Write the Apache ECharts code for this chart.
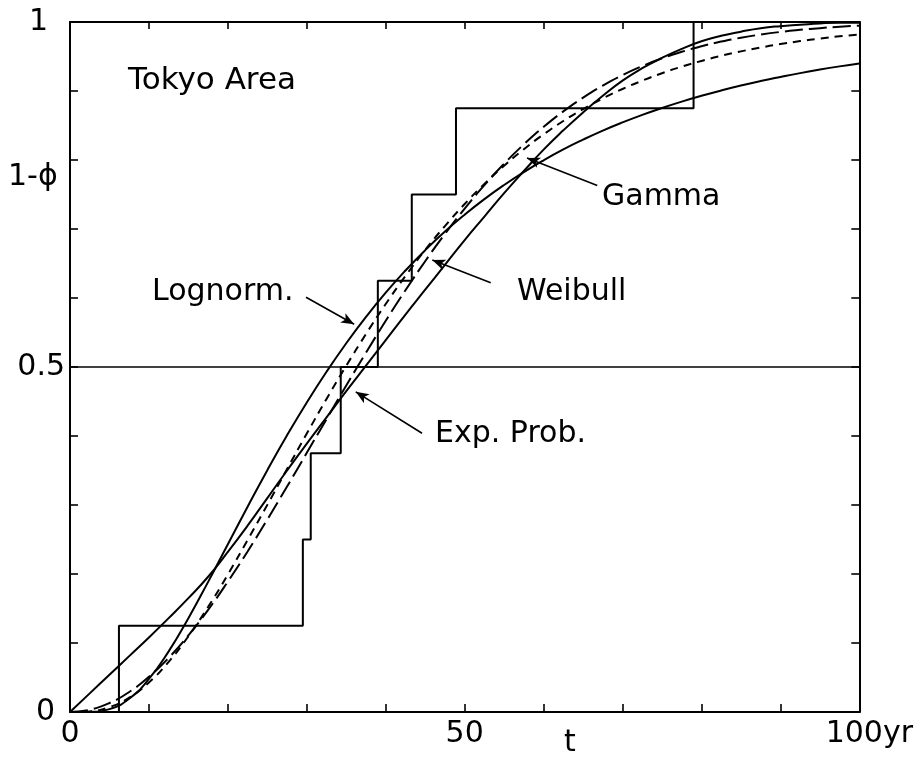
<!DOCTYPE html>
<html>
<head>
<meta charset="utf-8">
<script src="https://cdn.jsdelivr.net/npm/echarts@6/dist/echarts.min.js"></script>
<style>html,body{margin:0;padding:0;background:#fff}#c{width:916px;height:762px}</style>
</head>
<body>
<div id="c"></div>
<script>
// ---- data ----
const tYears = [0,2.5,5,7.5,10,12.5,15,17.5,20,22.5,25,27.5,30,32.5,35,37.5,40,42.5,45,47.5,50,52.5,55,57.5,60,62.5,65,67.5,70,72.5,75,77.5,80,82.5,85,87.5,90,92.5,95,97.5,100];
const lognormVals = [0,0.0002,0.0042,0.0193,0.0479,0.0879,0.136,0.1886,0.2432,0.2975,0.3505,0.401,0.4486,0.4931,0.5344,0.5726,0.6077,0.6398,0.6693,0.6963,0.7208,0.7433,0.7638,0.7825,0.7996,0.8153,0.8295,0.8426,0.8545,0.8654,0.8754,0.8846,0.893,0.9007,0.9079,0.9144,0.9203,0.9259,0.931,0.9357,0.94];
const weibullVals = [0,0.0033,0.013,0.029,0.051,0.0785,0.111,0.148,0.189,0.2327,0.279,0.3267,0.3756,0.4245,0.4731,0.5208,0.567,0.6113,0.6533,0.6929,0.7296,0.7635,0.7946,0.8227,0.848,0.8705,0.8903,0.9078,0.923,0.9361,0.9473,0.9568,0.9648,0.9716,0.9772,0.9818,0.9856,0.9886,0.9911,0.9931,0.9947];
const gammaVals = [0,0.0009,0.0071,0.0207,0.0428,0.0727,0.1098,0.1524,0.1993,0.2493,0.3002,0.3522,0.4035,0.4537,0.5018,0.5478,0.5913,0.6319,0.6696,0.7043,0.7362,0.7654,0.7918,0.8156,0.8372,0.8565,0.8738,0.8892,0.9029,0.915,0.9258,0.9353,0.9436,0.951,0.9574,0.963,0.968,0.9723,0.976,0.9793,0.982];
const expProbVals = [0,0.027,0.054,0.081,0.108,0.136,0.165,0.196,0.232,0.27,0.31,0.35,0.389,0.427,0.465,0.502,0.539,0.576,0.612,0.648,0.684,0.718,0.752,0.784,0.815,0.843,0.869,0.893,0.915,0.933,0.948,0.961,0.972,0.98,0.986,0.991,0.994,0.996,0.998,0.999,0.999];
// empirical step function (event years and cumulative level)
const eventYears  = [0,6.2,29.5,30.5,34.3,39.0,43.3,48.9,79.0,100];
const eventLevels = [0,0.125,0.25,0.375,0.5,0.625,0.75,0.875,1,1];
const refLevel = 0.5;
// arrow annotations: [fromT, fromV, toT, toV]
const arrowLognorm = [29.9, 0.601, 36.0, 0.562];
const arrowWeibull = [53.3, 0.622, 45.9, 0.655];
const arrowGamma   = [66.8, 0.763, 57.9, 0.803];
const arrowExp     = [44.6, 0.404, 36.2, 0.464];
const xTickLabels = {0:'0', 50:'50', 100:'100yr'};
const yTickLabels = {0:'0', 0.5:'0.5', 1:'1'};

const FONT = 'DejaVu Sans';
const pairs = (xs, ys) => xs.map((x, i) => [x, ys[i]]);
const arrowML = a => ({
  silent: true,
  symbol: ['none', 'arrow'],
  symbolSize: [8, 13],
  label: {show: false},
  lineStyle: {color: '#000', width: 1.6, type: 'solid'},
  emphasis: {disabled: true},
  data: [[{coord: [a[0], a[1]]}, {coord: [a[2], a[3]]}]]
});
const curve = (name, vals, type) => ({
  name, type: 'line', data: pairs(tYears, vals), smooth: true,
  showSymbol: false, symbol: 'none', z: 3,
  lineStyle: {color: '#000', width: 2, type: type},
  emphasis: {disabled: true}
});
const axisLineStyle = {show: true, onZero: false, lineStyle: {color: '#000', width: 2}};
const tickStyle = len => ({show: true, inside: true, length: len, lineStyle: {color: '#000', width: 1.6}});
const findLabel = (map, v) => { for (const k in map) { if (Math.abs(+k - v) < 1e-6) return map[k]; } return null; };

const chart = echarts.init(document.getElementById('c'), null, {renderer: 'canvas'});
const option = {
  animation: false,
  backgroundColor: '#fff',
  grid: {left: 70, right: 55, top: 22, bottom: 50, containLabel: false},
  xAxis: [
    {type: 'value', min: 0, max: 100, interval: 10, position: 'bottom',
     axisLine: axisLineStyle, axisTick: tickStyle(8), splitLine: {show: false},
     axisLabel: {margin: 7, color: '#000', fontFamily: FONT, fontSize: 30, showMinLabel: true, showMaxLabel: true,
       formatter: v => { const s = findLabel(xTickLabels, v); if (s === null) return ''; return v === 100 ? '{r|' + s + '}' : s; },
       rich: {r: {fontFamily: FONT, fontSize: 30, color: '#000', padding: [0, 0, 0, 20]}}}},
    {type: 'value', min: 0, max: 100, interval: 10, position: 'top',
     axisLine: axisLineStyle, axisTick: tickStyle(7), splitLine: {show: false}, axisLabel: {show: false}}
  ],
  yAxis: [
    {type: 'value', min: 0, max: 1, interval: 0.1, position: 'left',
     axisLine: axisLineStyle, axisTick: tickStyle(8), splitLine: {show: false},
     axisLabel: {margin: 5, color: '#000', fontFamily: FONT, fontSize: 30, showMinLabel: true, showMaxLabel: true,
       formatter: v => { const s = findLabel(yTickLabels, v); if (s === null) return ''; if (v === 0) return '{z|0}'; if (Math.abs(v - 1) < 1e-6) return '{o|1}'; return s; },
       rich: {z: {fontFamily: FONT, fontSize: 30, color: '#000', padding: [0, 10, 0, 0]},
              o: {fontFamily: FONT, fontSize: 30, color: '#000', padding: [0, 17, 0, 0]}}}},
    {type: 'value', min: 0, max: 1, interval: 0.1, position: 'right',
     axisLine: axisLineStyle, axisTick: tickStyle(8), splitLine: {show: false}, axisLabel: {show: false}}
  ],
  series: [
    {name: 'Exp. data', type: 'line', data: pairs(eventYears, eventLevels), step: 'end',
     showSymbol: false, symbol: 'none', z: 2, lineStyle: {color: '#000', width: 2}, emphasis: {disabled: true},
     markLine: {silent: true, symbol: ['none', 'none'], label: {show: false},
       lineStyle: {color: '#000', width: 1.6, type: 'solid'}, emphasis: {disabled: true},
       data: [{yAxis: refLevel}]}},
    Object.assign(curve('Lognorm.', lognormVals, 'solid'), {markLine: arrowML(arrowLognorm)}),
    Object.assign(curve('Weibull', weibullVals, [18, 6]), {markLine: arrowML(arrowWeibull)}),
    Object.assign(curve('Gamma', gammaVals, [8, 6]), {markLine: arrowML(arrowGamma)}),
    Object.assign(curve('Exp. Prob.', expProbVals, 'solid'), {markLine: arrowML(arrowExp)})
  ],
  graphic: [
    {type: 'text', left: 128, top: 65, style: {text: 'Tokyo Area', font: '31px "DejaVu Sans"', fill: '#000'}},
    {type: 'text', left: 8, top: 162, style: {text: '1-ϕ', font: '30px "DejaVu Sans"', fill: '#000'}},
    {type: 'text', left: 152, top: 277, style: {text: 'Lognorm.', font: '30px "DejaVu Sans"', fill: '#000'}},
    {type: 'text', left: 517, top: 277, style: {text: 'Weibull', font: '30px "DejaVu Sans"', fill: '#000'}},
    {type: 'text', left: 602, top: 182, style: {text: 'Gamma', font: '30px "DejaVu Sans"', fill: '#000'}},
    {type: 'text', left: 435, top: 419, style: {text: 'Exp. Prob.', font: '30px "DejaVu Sans"', fill: '#000'}},
    {type: 'text', left: 564, top: 728, style: {text: 't', font: '30px "DejaVu Sans"', fill: '#000'}}
  ]
};
chart.setOption(option);
</script>
</body>
</html>
